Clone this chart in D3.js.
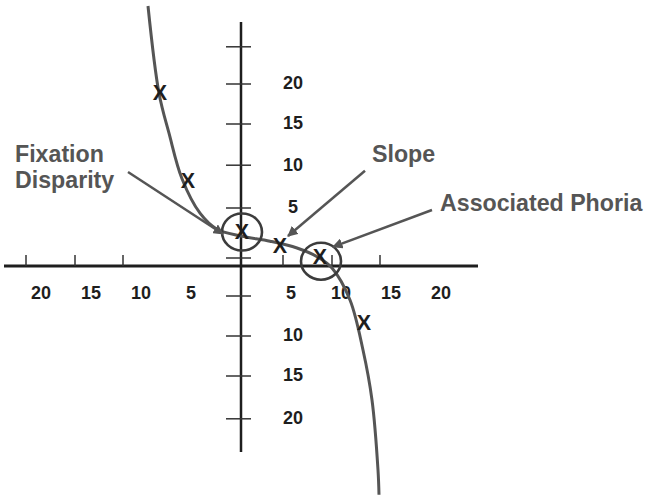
<!DOCTYPE html>
<html>
<head>
<meta charset="utf-8">
<script src="https://cdn.jsdelivr.net/npm/d3@7"></script>
<style>
  html, body { margin: 0; padding: 0; background: #fff; }
  svg { display: block; font-family: "Liberation Sans", Arial, sans-serif; }
</style>
</head>
<body>
<svg id="chart" width="645" height="495"></svg>
<script>
// Fixation disparity curve: x = prism demand, y = fixation disparity (schematic units)
const curveX = [-9.3, -8.2, -7.2, -5.9, -4.1, -2.4, 0, 2.9, 5.6, 7.7, 9.1, 10.9, 12.2, 13.1, 13.7, 13.8];
const curveY = [32.5, 21.6, 16.6, 10.9, 6.6, 4.6, 3.75, 3.1, 2.25, 1.1, -0.25, -4.25, -10.5, -16.75, -25.5, -28.6];

// Measured points ("X" marks)
const pointX = [-8.1, -5.3, 0.1, 3.9, 7.9, 12.3];
const pointY = [21.75, 10.75, 4.4, 2.6, 1.25, -7.0];

// Highlighted points: the fixation disparity (y-intercept) and associated phoria (x-intercept)
const ringX = [0.1, 8.0];
const ringY = [4.25, 0.6];

// Axis ticks and labels
const xTickMarks = [-21.5, -16.6, -11.8, 4.2, 9.1, 13.9];
const xLabelValues = [-20, -15, -10, -5, 5, 10, 15, 20];
const xLabelText = ["20", "15", "10", "5", "5", "10", "15", "20"];
const yTickMarks = [27.4, 22.75, 17.75, 12.6, 7.25, 1.0, -3.75, -8.75, -13.75, -19.1];
const yTickText = ["", "20", "15", "10", "5", "", "", "10", "15", "20"];

// Annotations: label text and the arrow each one points with
const noteNames = ["Fixation Disparity", "Slope", "Associated Phoria"];

const svg = d3.select("#chart");
const ink = "#1e1e1e";
const grey = "#555";

// 10 px per unit across, 8 px per unit vertically, origin where the axes cross
const x = d3.scaleLinear().domain([-23.7, 23.7]).range([4, 478]);
const y = d3.scaleLinear().domain([-23.25, 30.5]).range([452, 22]);

// arrowhead
svg.append("defs").append("marker")
  .attr("id", "head")
  .attr("viewBox", "0 0 10 10")
  .attr("refX", 9).attr("refY", 5)
  .attr("markerWidth", 4.2).attr("markerHeight", 4.2)
  .attr("markerUnits", "strokeWidth")
  .attr("orient", "auto")
  .append("path")
  .attr("d", "M0,0 L10,5 L0,10 Z")
  .attr("fill", grey);

// axes
svg.append("line")
  .attr("x1", x(-23.7)).attr("x2", x(23.7))
  .attr("y1", y(0)).attr("y2", y(0))
  .attr("stroke", ink).attr("stroke-width", 3);
svg.append("line")
  .attr("x1", x(0)).attr("x2", x(0))
  .attr("y1", y(30.5)).attr("y2", y(-23.25))
  .attr("stroke", ink).attr("stroke-width", 2.5);

svg.append("g").selectAll("line").data(xTickMarks).join("line")
  .attr("x1", d => x(d)).attr("x2", d => x(d))
  .attr("y1", y(0) - 11).attr("y2", y(0))
  .attr("stroke", "#333").attr("stroke-width", 1.5);

svg.append("g").selectAll("line").data(yTickMarks).join("line")
  .attr("x1", x(0) - 15).attr("x2", x(0) + 10)
  .attr("y1", d => y(d)).attr("y2", d => y(d))
  .attr("stroke", "#333").attr("stroke-width", 1.5);

svg.append("g").selectAll("text").data(xLabelValues).join("text")
  .attr("x", d => x(d)).attr("y", y(0) + 27)
  .attr("dy", "0.35em")
  .attr("text-anchor", "middle")
  .attr("font-size", 18).attr("font-weight", "bold").attr("fill", ink)
  .text((d, i) => xLabelText[i]);

svg.append("g").selectAll("text").data(yTickMarks).join("text")
  .attr("x", x(0) + 52).attr("y", d => y(d) - 1)
  .attr("dy", "0.35em")
  .attr("text-anchor", "middle")
  .attr("font-size", 18).attr("font-weight", "bold").attr("fill", ink)
  .text((d, i) => yTickText[i]);

// the curve
const curvePts = curveX.map((v, i) => [v, curveY[i]]);
svg.append("path")
  .datum(curvePts)
  .attr("d", d3.line().x(d => x(d[0])).y(d => y(d[1])).curve(d3.curveCatmullRom.alpha(0.5)))
  .attr("fill", "none").attr("stroke", grey).attr("stroke-width", 3);

// rings
svg.append("g").selectAll("ellipse").data(ringX).join("ellipse")
  .attr("cx", d => x(d)).attr("cy", (d, i) => y(ringY[i]))
  .attr("rx", 20).attr("ry", 18.5)
  .attr("fill", "none").attr("stroke", "#3c3c3c").attr("stroke-width", 2.6);

// X marks
svg.append("g").selectAll("text").data(pointX).join("text")
  .attr("x", d => x(d)).attr("y", (d, i) => y(pointY[i]))
  .attr("dy", "0.36em")
  .attr("text-anchor", "middle")
  .attr("font-size", 21.5).attr("font-weight", "bold").attr("fill", ink)
  .text("X");

// annotation arrows (start, tip) in chart units
const arrowFrom = [[-11.3, 11.75], [12.4, 11.9], [19.1, 7.0]];
const arrowTo = [[-1.8, 4.0], [4.7, 3.75], [9.2, 2.4]];
svg.append("g").selectAll("line").data(arrowFrom).join("line")
  .attr("x1", d => x(d[0])).attr("y1", d => y(d[1]))
  .attr("x2", (d, i) => x(arrowTo[i][0])).attr("y2", (d, i) => y(arrowTo[i][1]))
  .attr("stroke", grey).attr("stroke-width", 2.5)
  .attr("marker-end", "url(#head)");

// annotation labels
const labelStyle = sel => sel
  .attr("font-size", 23.2).attr("font-weight", "bold").attr("fill", grey);

labelStyle(svg.append("text")
  .attr("x", x(-22.6)).attr("y", y(13.06))
  .text(noteNames[0].split(" ")[0]));
labelStyle(svg.append("text")
  .attr("x", x(-22.6)).attr("y", y(9.7))
  .text(noteNames[0].split(" ")[1]));
labelStyle(svg.append("text")
  .attr("x", x(13.1)).attr("y", y(13.06))
  .text(noteNames[1]));
labelStyle(svg.append("text")
  .attr("x", x(19.9)).attr("y", y(6.9))
  .text(noteNames[2]));
</script>
</body>
</html>
